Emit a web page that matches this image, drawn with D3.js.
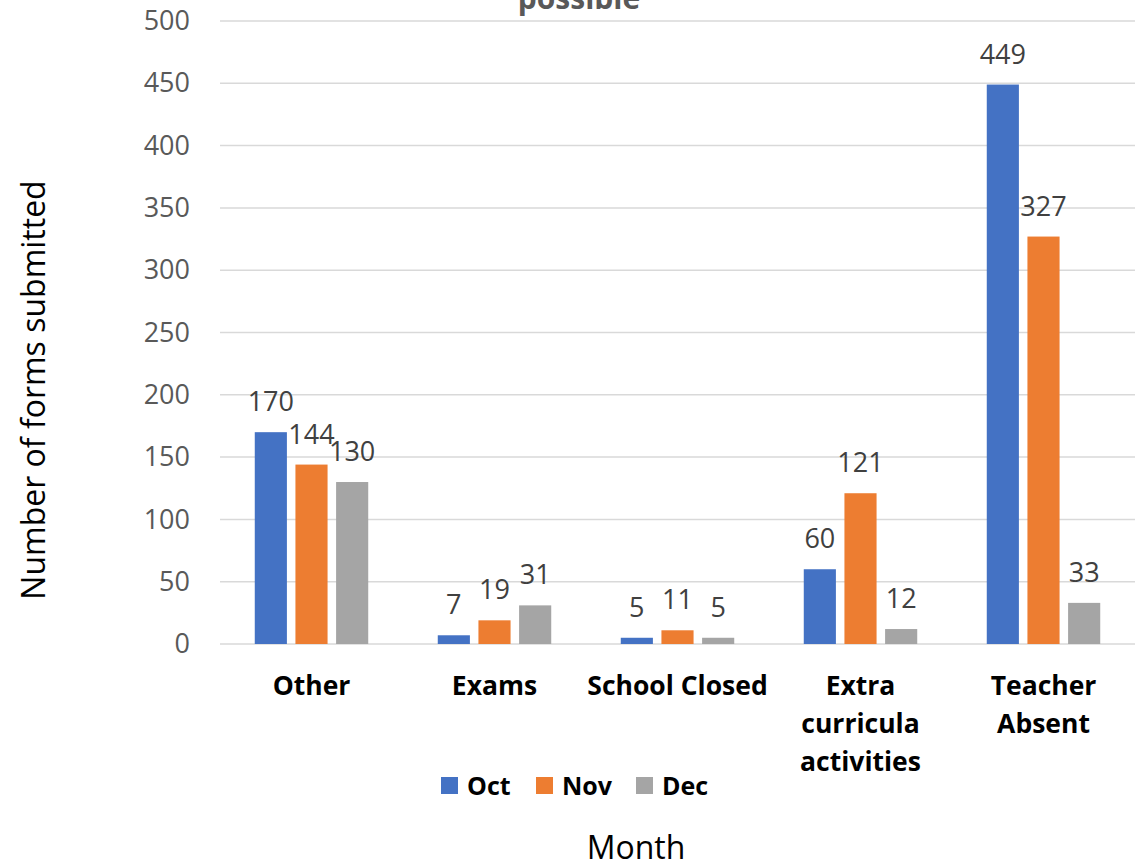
<!DOCTYPE html>
<html><head><meta charset="utf-8">
<script src="https://cdn.jsdelivr.net/npm/d3@7"></script>
<style>body{margin:0;background:#fff}svg{display:block}</style>
</head><body>
<svg id="chart" width="1139" height="865"></svg>
<script>
const categories = ["Other", "Exams", "School Closed", "Extra\ncurricula\nactivities", "Teacher\nAbsent"];
const seriesNames = ["Oct", "Nov", "Dec"];
const octValues = [170, 7, 5, 60, 449];
const novValues = [144, 19, 11, 121, 327];
const decValues = [130, 31, 5, 12, 33];
const yTicks = [0, 50, 100, 150, 200, 250, 300, 350, 400, 450, 500];
const colors = ["#4472C4", "#ED7D31", "#A5A5A5"];
const titleText = "possible";
const yTitle = "Number of forms submitted";
const xTitle = "Month";

const series = [octValues, novValues, decValues];
const svg = d3.select("#chart");
const margin = {left: 220, right: 4, top: 21, bottom: 221};
const W = 1139, H = 865;
const x0 = d3.scaleBand().domain(categories).range([margin.left, W - margin.right]).paddingInner(0.38).paddingOuter(0.19);
const x1 = d3.scaleBand().domain(seriesNames).range([0, x0.bandwidth()]).paddingInner(0.21);
const y = d3.scaleLinear().domain([0, 500]).range([H - margin.bottom, margin.top]);

const font = "'Open Sans', sans-serif";

// gridlines
svg.append("g").selectAll("line").data(yTicks).join("line")
  .attr("x1", margin.left).attr("x2", W - margin.right)
  .attr("y1", d => y(d)).attr("y2", d => y(d))
  .attr("stroke", "#d9d9d9").attr("stroke-width", 1.5);

// y axis labels
const yAxis = d3.axisLeft(y).tickValues(yTicks).tickSize(0).tickPadding(0);
const ya = svg.append("g").attr("transform", `translate(${margin.left - 30},0)`).call(yAxis);
ya.select(".domain").remove();
ya.selectAll("text").attr("font-family", font).attr("font-size", 27).attr("fill", "#595959");

// bars
const groups = svg.append("g").selectAll("g").data(categories).join("g")
  .attr("transform", d => `translate(${x0(d)},0)`);
groups.selectAll("rect").data((c, i) => seriesNames.map((s, j) => ({s, v: series[j][i], j})))
  .join("rect")
  .attr("x", d => x1(d.s)).attr("width", x1.bandwidth())
  .attr("y", d => y(d.v)).attr("height", d => y(0) - y(d.v))
  .attr("fill", d => colors[d.j]);
groups.selectAll("text").data((c, i) => seriesNames.map((s, j) => ({s, v: series[j][i], j})))
  .join("text")
  .attr("x", d => x1(d.s) + x1.bandwidth() / 2)
  .attr("y", d => y(d.v) - 21)
  .attr("text-anchor", "middle")
  .attr("font-family", font).attr("font-size", 27).attr("fill", "#404040")
  .text(d => d.v);

// x axis category labels
const xa = svg.append("g");
categories.forEach(c => {
  const t = xa.append("text").attr("x", x0(c) + x0.bandwidth() / 2).attr("y", 695)
    .attr("text-anchor", "middle").attr("font-family", font).attr("font-weight", "bold")
    .attr("font-size", 26.5).attr("fill", "#000");
  c.split("\n").forEach((line, k) => {
    t.append("tspan").attr("x", x0(c) + x0.bandwidth() / 2).attr("dy", k === 0 ? 0 : 38).text(line);
  });
});

// title (partially visible)
svg.append("text").attr("x", 579).attr("y", 9).attr("text-anchor", "middle")
  .attr("font-family", font).attr("font-weight", "bold").attr("font-size", 30).attr("fill", "#595959")
  .text(titleText);

// axis titles
svg.append("text").attr("transform", "translate(45,390) rotate(-90)").attr("text-anchor", "middle")
  .attr("font-family", font).attr("font-size", 32).attr("fill", "#000").text(yTitle);
svg.append("text").attr("x", 636).attr("y", 859).attr("text-anchor", "middle")
  .attr("font-family", font).attr("font-size", 32).attr("fill", "#000").text(xTitle);

// legend
const legendX = [441, 536, 636];
const lg = svg.append("g");
seriesNames.forEach((s, i) => {
  lg.append("rect").attr("x", legendX[i]).attr("y", 777).attr("width", 17).attr("height", 17).attr("fill", colors[i]);
  lg.append("text").attr("x", legendX[i] + 26).attr("y", 795).attr("font-family", font)
    .attr("font-weight", "bold").attr("font-size", 25).attr("fill", "#000").text(s);
});
</script>
</body></html>
